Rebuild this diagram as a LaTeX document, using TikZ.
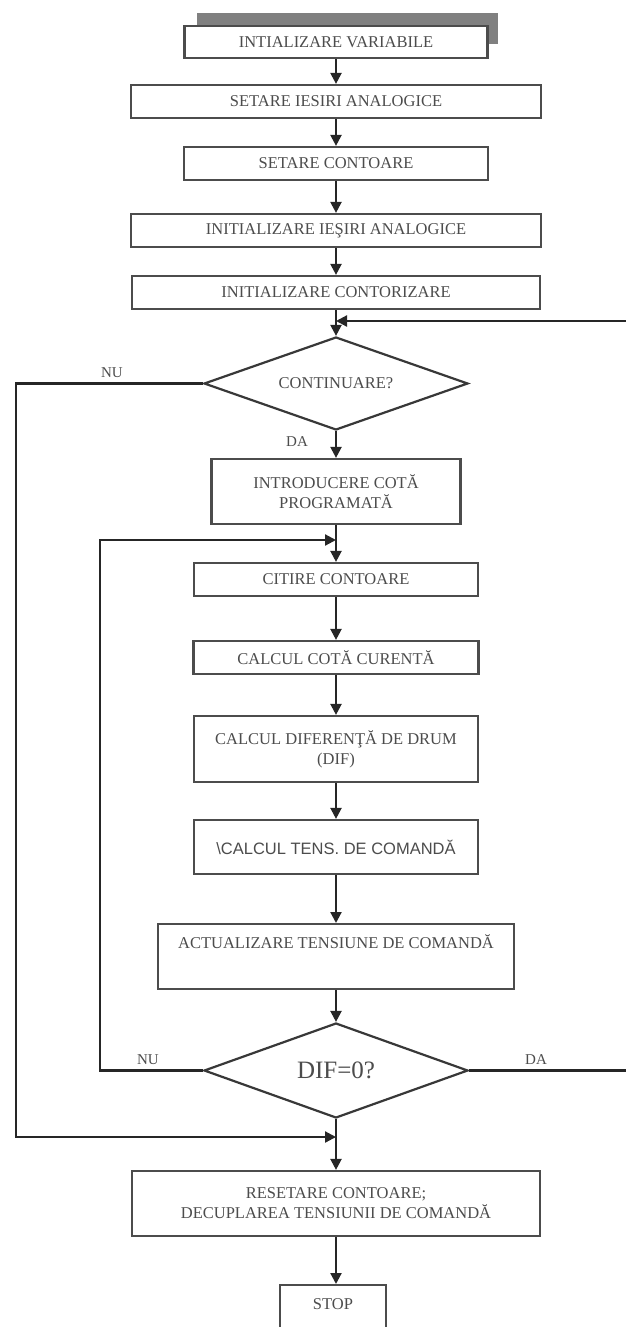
\documentclass[tikz,border=0pt]{standalone}
\usepackage{fontspec}
\setmainfont{Liberation Serif}
\newfontfamily\arialf{Liberation Sans}
\usetikzlibrary{arrows.meta,shapes.geometric}
\begin{document}
\begin{tikzpicture}[x=1pt,y=-1pt,
  box/.style={draw=black!70,line width=2.2pt,fill=white,rectangle,inner sep=0pt,align=center,
    text=black!70,font=\fontsize{16.5}{19.8}\selectfont},
  dec/.style={draw=black!78,line width=2.2pt,fill=white,diamond,inner sep=0pt,
    text=black!70,font=\fontsize{16.5}{19.8}\selectfont},
  conn/.style={black!85,line width=2.2pt},
  arr/.style={conn,-{Triangle[length=11pt,width=11pt]}},
  lbl/.style={text=black!70,font=\fontsize{15}{18}\selectfont,inner sep=0pt}]
\useasboundingbox (0,0) rectangle (626,1327);
\clip (0,0) rectangle (626,1327);
% shadow of the first box
\fill[black!50] (197,13) rectangle (498,44);
\node[box,minimum width=303pt,minimum height=32pt] (b1) at (336,42) {INTIALIZARE VARIABILE};
\node[box,minimum width=410pt,minimum height=33pt] (b2) at (336,101.5) {SETARE IESIRI ANALOGICE};
\node[box,minimum width=304pt,minimum height=33pt] (b3) at (336,163.5) {SETARE CONTOARE};
\node[box,minimum width=410pt,minimum height=33pt] (b4) at (336,230.5) {INITIALIZARE IEŞIRI ANALOGICE};
\node[box,minimum width=408pt,minimum height=33pt] (b5) at (336,292.5) {INITIALIZARE CONTORIZARE};
\node[dec,minimum width=264pt,minimum height=93pt,aspect=2.84] (d1) at (336,383.5) {CONTINUARE?};
\node[box,minimum width=249pt,minimum height=65pt] (b6) at (336,491.5) {INTRODUCERE COTĂ\\PROGRAMATĂ};
\node[box,minimum width=284pt,minimum height=33pt] (b7) at (336,579.5) {CITIRE CONTOARE};
\node[box,minimum width=285pt,minimum height=33pt] (b8) at (336,657.5) {CALCUL COTĂ CURENTĂ};
\node[box,minimum width=284pt,minimum height=66pt] (b9) at (336,749) {CALCUL DIFERENŢĂ DE DRUM\\(DIF)};
\node[box,minimum width=284pt,minimum height=54pt,font=\arialf\fontsize{16.5}{19.8}\selectfont] (b10) at (336,847) {\textbackslash CALCUL TENS. DE COMANDĂ};
\node[box,minimum width=356pt,anchor=north,text height=24pt,text depth=41pt] (b11) at (336,923) {ACTUALIZARE TENSIUNE DE COMANDĂ};
\node[dec,minimum width=264pt,minimum height=95pt,aspect=2.78,font=\fontsize{25}{30}\selectfont] (d2) at (336,1070.5) {DIF=0?};
\node[box,minimum width=408pt,minimum height=65pt] (b12) at (336,1203.5) {RESETARE CONTOARE;\\DECUPLAREA TENSIUNII DE COMANDĂ};
\node[box,minimum width=106pt,anchor=north,text height=24pt,text depth=37pt] (b13) at (333,1284) {STOP};
% junction points
\coordinate (rin) at (626,321);
\coordinate (j1) at (336,321);
\coordinate (j2) at (336,540);
\coordinate (j3) at (336,1137);
\coordinate (rout) at (626,1070.5);
% main flow
\draw[arr] (b1.south) -- (b1.south |- b2.north);
\draw[arr] (b2.south) -- (b3.north);
\draw[arr] (b3.south) -- (b4.north);
\draw[arr] (b4.south) -- (b5.north);
\draw[arr] (b5.south) -- (d1.north);
\draw[arr] (rin) -- (j1);
\draw[arr] (d1.south) -- (b6.north);
\draw[arr] (b6.south) -- (b7.north);
\draw[arr] (d2.west) -- (100,1070.5) -- (100,540) -- (j2);
\draw[arr] (b7.south) -- (b8.north);
\draw[arr] (b8.south) -- (b9.north);
\draw[arr] (b9.south) -- (b10.north);
\draw[arr] (b10.south) -- (b11.north);
\draw[arr] (b11.south) -- (d2.north);
\draw[arr] (d1.west) -- (16,383.5) -- (16,1137) -- (j3);
\draw[conn] (d2.east) -- (rout);
\draw[arr] (d2.south) -- (b12.north);
\draw[arr] (b12.south) -- (b13.north -| b12.south);
% labels
\node[lbl] (lnu1) at (112,373) {NU};
\node[lbl] (lda1) at (297,442) {DA};
\node[lbl] (lnu2) at (148,1060) {NU};
\node[lbl] (lda2) at (536,1060) {DA};
\end{tikzpicture}
\end{document}
